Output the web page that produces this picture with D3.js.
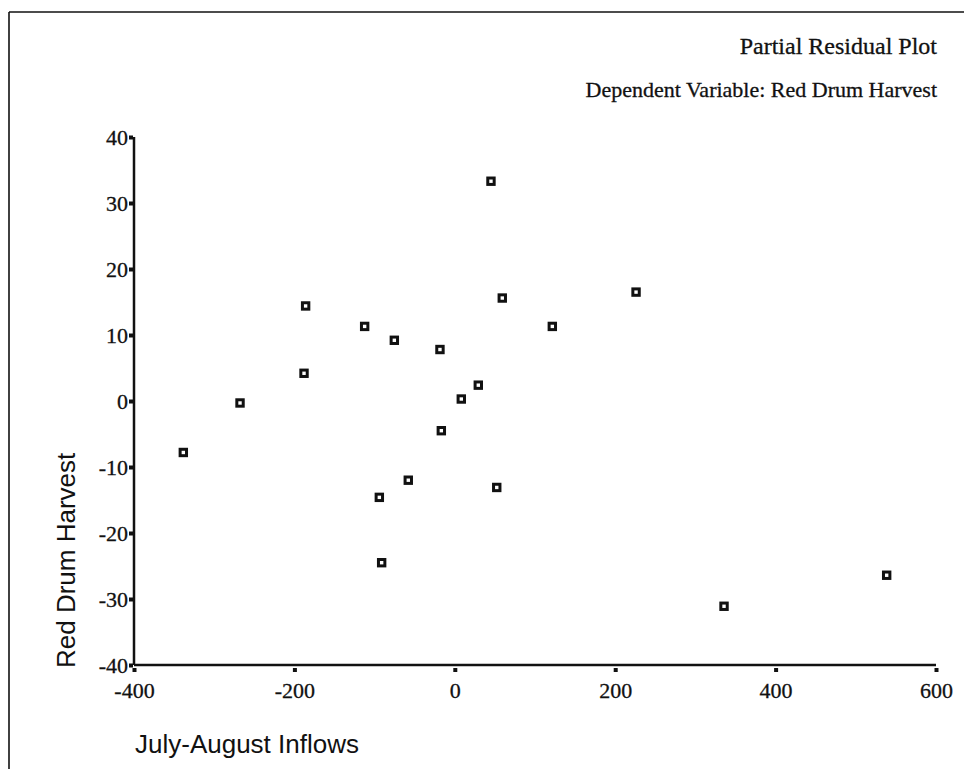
<!DOCTYPE html>
<html>
<head>
<meta charset="utf-8">
<script src="https://cdn.jsdelivr.net/npm/d3@7"></script>
<style>
  html, body { margin: 0; padding: 0; background: #fff; }
  svg { display: block; }
</style>
</head>
<body>
<svg id="chart" width="964" height="769"></svg>
<script>
// ---- data ----
const inflows = [-338.5, -267.8, -186, -188, -112.4, -75.4, -94.1, -91.2, -58, -18.5,
                 -16.8, 8.1, 29.3, 45.1, 59.2, 52.3, 121.6, 226, 335.7, 538.5];
const harvest = [-7.8, -0.3, 14.4, 4.2, 11.3, 9.2, -14.6, -24.5, -12, 7.8,
                 -4.5, 0.3, 2.4, 33.3, 15.6, -13.1, 11.3, 16.5, -31.1, -26.4];
const xTicks = [-400, -200, 0, 200, 400, 600];
const yTicks = [-40, -30, -20, -10, 0, 10, 20, 30, 40];
const titleLines = ["Partial Residual Plot", "Dependent Variable: Red Drum Harvest"];
const xLabel = "July-August Inflows";
const yLabel = "Red Drum Harvest";

const svg = d3.select("#chart");
const serif = "'Liberation Serif', 'Times New Roman', serif";
const sans = "'Liberation Sans', Arial, sans-serif";
const ink = "#111";

const x = d3.scaleLinear().domain([-400, 600]).range([134, 936]);
const y = d3.scaleLinear().domain([-40, 40]).range([665, 137]);
const fmt = d => String(d);

// page frame (top and left edges)
svg.append("line").attr("x1", 9).attr("x2", 964).attr("y1", 12).attr("y2", 12)
  .attr("stroke", ink).attr("stroke-width", 1.6);
svg.append("line").attr("x1", 9).attr("x2", 9).attr("y1", 12).attr("y2", 769)
  .attr("stroke", ink).attr("stroke-width", 1.6);

// titles
const titleSize = [24, 22];
svg.selectAll("text.title").data(titleLines).join("text")
  .attr("class", "title")
  .attr("x", 937).attr("y", (d, i) => 54 + i * 43)
  .attr("text-anchor", "end")
  .attr("font-family", serif).attr("font-size", (d, i) => titleSize[i])
  .attr("fill", ink).attr("stroke", ink).attr("stroke-width", 0.3)
  .text(d => d);

// x axis
const xAxis = d3.axisBottom(x).tickValues(xTicks).tickSize(0).tickPadding(0).tickFormat(fmt);
const gx = svg.append("g").attr("transform", `translate(0,${y(-40)})`).call(xAxis);
gx.select(".domain").attr("stroke", ink).attr("stroke-width", 2.5).attr("d", `M${x(-400)},0H${x(600)}`);
gx.selectAll(".tick text").attr("y", 33).attr("dy", 0)
  .attr("font-family", serif).attr("font-size", 22).attr("fill", ink)
  .attr("stroke", ink).attr("stroke-width", 0.3);
gx.selectAll(".tick").append("rect")
  .attr("x", -2).attr("y", 3).attr("width", 4).attr("height", 4).attr("fill", ink);

// y axis
const yAxis = d3.axisLeft(y).tickValues(yTicks).tickSize(0).tickPadding(0).tickFormat(fmt);
const gy = svg.append("g").attr("transform", `translate(${x(-400)},0)`).call(yAxis);
gy.select(".domain").attr("stroke", ink).attr("stroke-width", 2.5).attr("d", `M0,${y(40)}V${y(-40)}`);
gy.selectAll(".tick text").attr("x", -6).attr("dy", "0.35em")
  .attr("font-family", serif).attr("font-size", 22).attr("fill", ink)
  .attr("stroke", ink).attr("stroke-width", 0.3);
gy.selectAll(".tick").append("rect")
  .attr("x", -5).attr("y", -2).attr("width", 4).attr("height", 4).attr("fill", ink);

// axis titles
svg.append("text").attr("x", 135).attr("y", 753)
  .attr("font-family", sans).attr("font-size", 26).attr("fill", ink)
  .text(xLabel);
svg.append("text").attr("transform", `translate(75,668) rotate(-90)`)
  .attr("font-family", sans).attr("font-size", 26).attr("fill", ink)
  .text(yLabel);

// points
const pts = inflows.map((v, i) => ({ x: v, y: harvest[i] }));
svg.append("g").selectAll("rect.pt").data(pts).join("rect")
  .attr("class", "pt")
  .attr("x", d => x(d.x) - 3.2).attr("y", d => y(d.y) - 3.2)
  .attr("width", 6.4).attr("height", 6.4)
  .attr("fill", "#fff").attr("stroke", ink).attr("stroke-width", 3);
</script>
</body>
</html>
